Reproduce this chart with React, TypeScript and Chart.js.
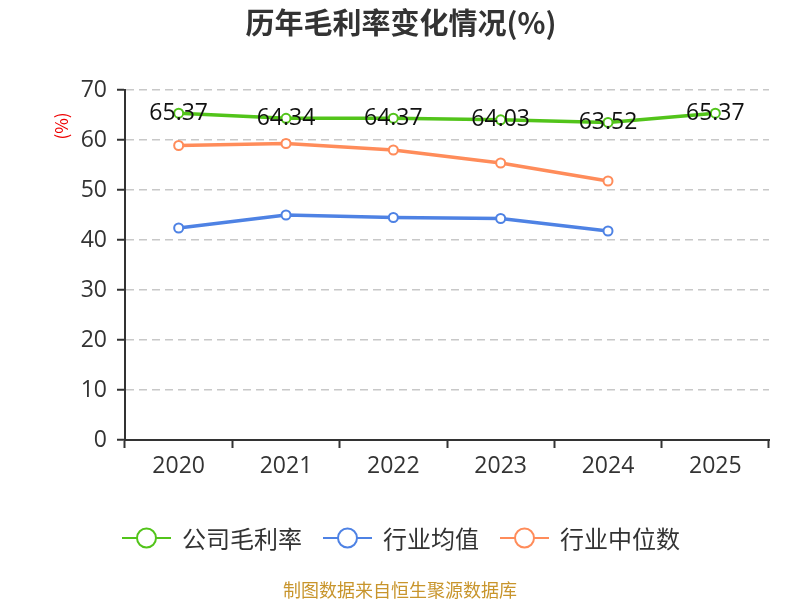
import React, { useEffect, useRef } from "react";
import { Chart, registerables } from "chart.js";

Chart.register(...registerables);

const years = ["2020", "2021", "2022", "2023", "2024", "2025"];
const companyMargin = [65.37, 64.34, 64.37, 64.03, 63.52, 65.37];
const industryMean = [42.4, 45.0, 44.5, 44.3, 41.8, null];
const industryMedian = [58.9, 59.3, 58.0, 55.4, 51.8, null];
const yTicks = [0, 10, 20, 30, 40, 50, 60, 70];

const seriesNames = ["公司毛利率", "行业均值", "行业中位数"];
const seriesColors = ["#52c41a", "#4e82e4", "#ff8c5a"];

const FONT = "'Noto Sans CJK SC', 'Noto Sans', sans-serif";
const NUM_FONT = "'Open Sans', 'Noto Sans CJK SC', sans-serif";

const decorPlugin = {
  id: "decor",
  afterDraw(chart: any) {
    const ctx = chart.ctx as CanvasRenderingContext2D;
    ctx.save();

    // title
    ctx.fillStyle = "#333";
    ctx.font = `bold 29px ${FONT}`;
    ctx.textAlign = "center";
    ctx.textBaseline = "middle";
    ctx.fillText("历年毛利率变化情况(%)", 401, 23);

    // y axis unit
    ctx.save();
    ctx.translate(62, 126);
    ctx.rotate(-Math.PI / 2);
    ctx.fillStyle = "#e00";
    ctx.font = `17px ${FONT}`;
    ctx.fillText("(%)", 0, 0);
    ctx.restore();

    // legend
    const starts = [122, 323, 500];
    const y = 538;
    chart.data.datasets.forEach((ds: any, i: number) => {
      const x0 = starts[i];
      ctx.strokeStyle = ds.borderColor;
      ctx.lineWidth = 2;
      ctx.beginPath();
      ctx.moveTo(x0, y);
      ctx.lineTo(x0 + 49, y);
      ctx.stroke();
      ctx.beginPath();
      ctx.arc(x0 + 24.5, y, 9.5, 0, Math.PI * 2);
      ctx.fillStyle = "#fff";
      ctx.fill();
      ctx.stroke();
      ctx.fillStyle = "#333";
      ctx.font = `24px ${FONT}`;
      ctx.textAlign = "left";
      ctx.textBaseline = "middle";
      ctx.fillText(ds.label, x0 + 60, y + 1);
    });

    // source note
    ctx.fillStyle = "#c8952c";
    ctx.font = `18px ${FONT}`;
    ctx.textAlign = "center";
    ctx.textBaseline = "middle";
    ctx.fillText("制图数据来自恒生聚源数据库", 400, 590);

    ctx.restore();
  },
  afterDatasetsDraw(chart: any) {
    const ctx = chart.ctx as CanvasRenderingContext2D;
    const meta = chart.getDatasetMeta(0);
    const data = chart.data.datasets[0].data;
    ctx.save();
    ctx.fillStyle = "#111";
    ctx.font = `23px ${NUM_FONT}`;
    ctx.textAlign = "center";
    ctx.textBaseline = "middle";
    meta.data.forEach((pt: any, i: number) => {
      const v = data[i];
      if (v == null) return;
      ctx.fillText(v.toFixed(2), pt.x, pt.y);
    });
    ctx.restore();
  },
};

export default function App() {
  const ref = useRef<HTMLCanvasElement | null>(null);

  useEffect(() => {
    if (!ref.current) return;
    const mk = (label: string, data: (number | null)[], color: string) => ({
      label,
      data,
      borderColor: color,
      backgroundColor: "#fff",
      pointBackgroundColor: "#fff",
      pointBorderColor: color,
      pointBorderWidth: 2,
      pointRadius: 4.5,
      borderWidth: 3.5,
      tension: 0,
      spanGaps: false,
    });
    const chart = new Chart(ref.current, {
      type: "line",
      data: {
        labels: years,
        datasets: [
          mk(seriesNames[0], companyMargin, seriesColors[0]),
          mk(seriesNames[1], industryMean, seriesColors[1]),
          mk(seriesNames[2], industryMedian, seriesColors[2]),
        ],
      },
      options: {
        responsive: false,
        animation: false,
        layout: { padding: { top: 90, left: 0, right: 31, bottom: 120 } },
        plugins: {
          legend: { display: false },
          title: { display: false },
          tooltip: { enabled: false },
        },
        scales: {
          x: {
            offset: true,
            grid: {
              offset: true,
              drawOnChartArea: false,
              drawTicks: true,
              tickLength: 8,
              tickColor: "#333",
              tickWidth: 2,
            },
            border: { display: true, color: "#333", width: 2 },
            ticks: {
              color: "#333",
              padding: 5,
              font: { size: 23, family: NUM_FONT },
            },
            afterFit(scale: any) {
              scale.height = 40;
            },
          },
          y: {
            min: yTicks[0],
            max: yTicks[yTicks.length - 1],
            afterBuildTicks(scale: any) {
              scale.ticks = yTicks.map((v) => ({ value: v }));
            },
            grid: {
              color: "#c8c8c8",
              lineWidth: 1.5,
              tickLength: 8,
              tickColor: "#333",
              tickWidth: 2,
              tickBorderDash: [],
            },
            border: { display: true, color: "#333", width: 2, dash: [8, 5] },
            ticks: {
              color: "#333",
              padding: 10,
              font: { size: 23, family: NUM_FONT },
            },
            afterFit(scale: any) {
              scale.width = 125;
            },
          },
        },
      },
      plugins: [decorPlugin],
    } as any);
    return () => chart.destroy();
  }, []);

  return (
    <div style={{ position: "absolute", left: 0, top: 0, width: 800, height: 600, background: "#fff" }}>
      <canvas ref={ref} width={800} height={600} />
    </div>
  );
}
